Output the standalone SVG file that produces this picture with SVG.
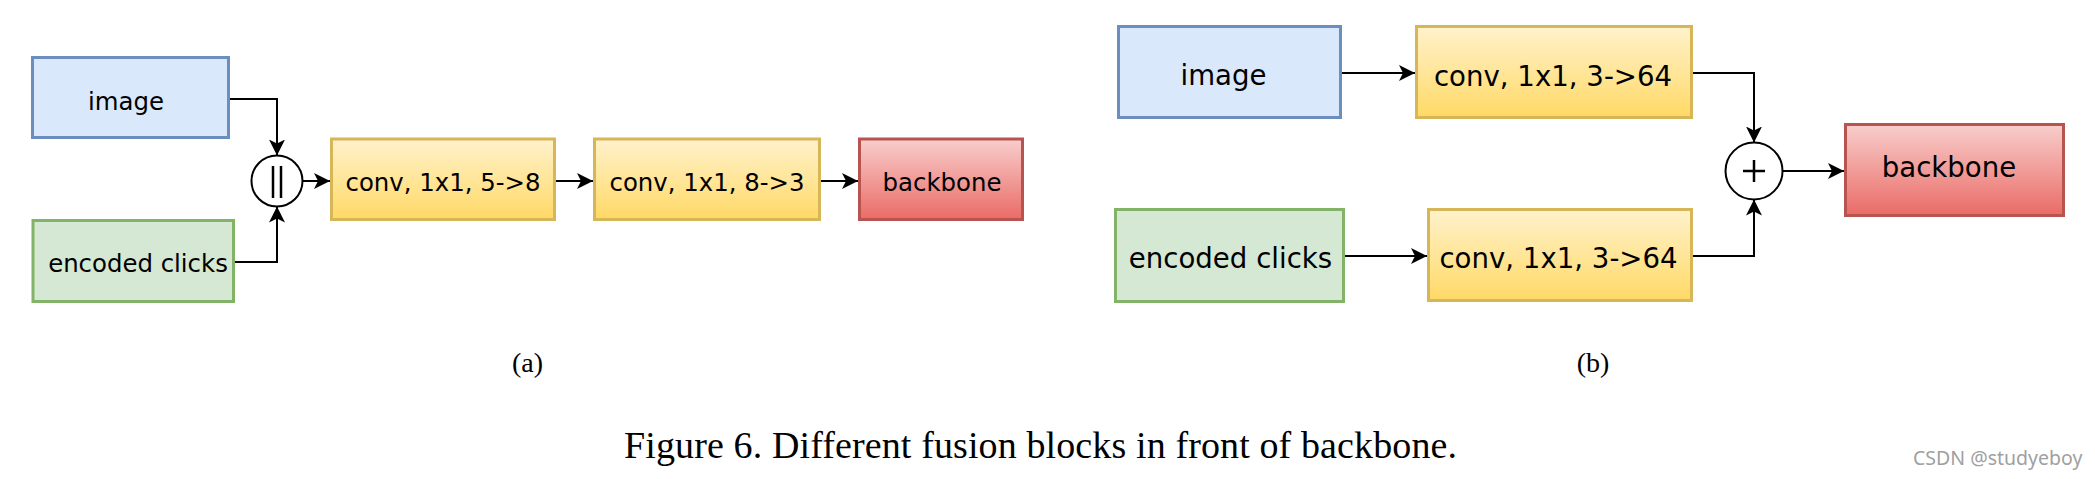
<svg xmlns="http://www.w3.org/2000/svg" width="2095" height="479" viewBox="0 0 2095 479">
<defs>
<linearGradient id="gy" x1="0" y1="0" x2="0" y2="1"><stop offset="0" stop-color="#fff2cc"/><stop offset="1" stop-color="#ffd966"/></linearGradient>
<linearGradient id="gr" x1="0" y1="0" x2="0" y2="1"><stop offset="0" stop-color="#f8cecc"/><stop offset="1" stop-color="#ea6b66"/></linearGradient>
<marker id="ah" markerUnits="userSpaceOnUse" markerWidth="18" markerHeight="18" refX="16" refY="8" orient="auto"><path d="M0,0 L16,8 L0,16 L4,8 Z" fill="#000"/></marker>
<style>
.blue{fill:#dae8fc;stroke:#6c8ebf;stroke-width:3}
.green{fill:#d5e8d4;stroke:#82b366;stroke-width:3}
.yellow{fill:url(#gy);stroke:#d6b656;stroke-width:3}
.red{fill:url(#gr);stroke:#b85450;stroke-width:3}
.op{fill:#fff;stroke:#000;stroke-width:2}
.t{font-family:"DejaVu Sans",sans-serif;fill:#000;text-anchor:middle}
.ts{font-size:24.4px}
.tl{font-size:27.6px}
.cap{font-family:"Liberation Serif","Times New Roman",serif;fill:#000;text-anchor:middle}
.edge{fill:none;stroke:#000;stroke-width:2;marker-end:url(#ah)}
</style>
</defs>
<rect width="2095" height="479" fill="#fff"/>

<g id="a-image"><rect class="blue" x="32.5" y="57.5" width="196" height="80"/><text class="t ts" x="126" y="110">image</text></g>
<g id="a-clicks"><rect class="green" x="33" y="220.5" width="200.5" height="81"/><text class="t ts" x="138" y="272">encoded clicks</text></g>
<g id="a-concat"><circle class="op" cx="277" cy="181" r="25.5"/><line x1="273" y1="166" x2="273" y2="198" stroke="#000" stroke-width="2.5"/><line x1="281" y1="166" x2="281" y2="198" stroke="#000" stroke-width="2.5"/></g>
<g id="a-conv1"><rect class="yellow" x="331.5" y="139" width="223" height="80.5"/><text class="t ts" x="443" y="191">conv, 1x1, 5-&gt;8</text></g>
<g id="a-conv2"><rect class="yellow" x="594.5" y="139" width="225" height="80.5"/><text class="t ts" x="707" y="191">conv, 1x1, 8-&gt;3</text></g>
<g id="a-backbone"><rect class="red" x="859.5" y="139" width="163" height="80.5"/><text class="t ts" x="942" y="191">backbone</text></g>

<g id="b-image"><rect class="blue" x="1118.5" y="26.5" width="222" height="91"/><text class="t tl" x="1223.5" y="85">image</text></g>
<g id="b-conv-top"><rect class="yellow" x="1416.5" y="26.5" width="275" height="91"/><text class="t tl" x="1553" y="86">conv, 1x1, 3-&gt;64</text></g>
<g id="b-clicks"><rect class="green" x="1115.5" y="209.5" width="228" height="92"/><text class="t tl" x="1230.5" y="268">encoded clicks</text></g>
<g id="b-conv-bottom"><rect class="yellow" x="1428.5" y="209.5" width="263" height="91"/><text class="t tl" x="1558.5" y="268">conv, 1x1, 3-&gt;64</text></g>
<g id="b-add"><circle class="op" cx="1754" cy="171" r="28.5"/><line x1="1743" y1="171" x2="1765" y2="171" stroke="#000" stroke-width="2.5"/><line x1="1754" y1="160" x2="1754" y2="182" stroke="#000" stroke-width="2.5"/></g>
<g id="b-backbone"><rect class="red" x="1845.5" y="124.5" width="218" height="91"/><text class="t tl" x="1949" y="177">backbone</text></g>

<g id="connectors">
<path class="edge" d="M230,99 H277 V155.5"/>
<path class="edge" d="M235,262 H277 V206.5"/>
<path class="edge" d="M302.5,181 H330"/>
<path class="edge" d="M556,181 H593"/>
<path class="edge" d="M821,181 H858"/>
<path class="edge" d="M1342,73 H1415"/>
<path class="edge" d="M1345,256 H1427"/>
<path class="edge" d="M1693,73 H1754 V142.5"/>
<path class="edge" d="M1693,256 H1754 V199.5"/>
<path class="edge" d="M1782.5,171 H1844"/>
</g>

<text class="cap" x="527.5" y="372" font-size="28">(a)</text>
<text class="cap" x="1593" y="372" font-size="28">(b)</text>
<text class="cap" x="1040.5" y="458" font-size="38" textLength="833" lengthAdjust="spacing">Figure 6. Different fusion blocks in front of backbone.</text>
<text x="1913" y="465" font-family="'Noto Sans','Open Sans',sans-serif" font-size="19.5" fill="#a0a0a0">CSDN @studyeboy</text>
</svg>
